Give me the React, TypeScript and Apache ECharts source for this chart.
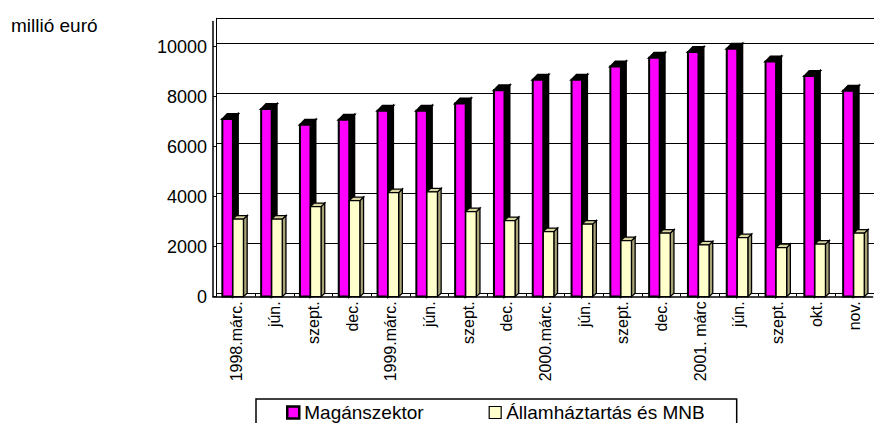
import React, { useEffect, useRef } from "react";
import * as echarts from "echarts";

const categories = [
  "1998.márc.", "jún.", "szept.", "dec.",
  "1999.márc.", "jún.", "szept.", "dec.",
  "2000.márc.", "jún.", "szept.", "dec.",
  "2001. márc", "jún.", "szept.", "okt.", "nov.",
];
const privateSector = [7100, 7500, 6870, 7070, 7430, 7430, 7720, 8250, 8670, 8670, 9200, 9550, 9780, 9910, 9400, 8820, 8230];
const governmentMnb = [3100, 3100, 3600, 3840, 4160, 4190, 3400, 3040, 2600, 2900, 2240, 2540, 2070, 2360, 1960, 2100, 2540];
const seriesNames = ["Magánszektor", "Államháztartás és MNB"];
const yTicks = { min: 0, max: 11000, interval: 2000 };
const unitLabel = "millió euró";

const FONT = "'Liberation Sans', Arial, sans-serif";

function makeRender(
  side: "left" | "right",
  front: string,
  top: string,
  sideC: string,
  lw: number,
  dx: number,
  dy: number
) {
  return (params: any, api: any) => {
    const idx = api.value(0);
    const val = api.value(1);
    const p = api.coord([idx, val]);
    const p0 = api.coord([idx, 0]);
    const bw = api.size([1, 0])[0];
    const w = bw * 0.272;
    const gc = p[0] + 0.5;
    const x0 = side === "left" ? gc - w : gc;
    const x1 = x0 + w;
    const yT = p[1];
    const yB = p0[1];
    return {
      type: "group",
      children: [
        {
          type: "polygon",
          shape: { points: [[x1, yT], [x1 + dx, yT + dy], [x1 + dx, yB + dy], [x1, yB]] },
          style: { fill: sideC, stroke: "#000", lineWidth: lw },
        },
        {
          type: "polygon",
          shape: { points: [[x0, yT], [x0 + dx, yT + dy], [x1 + dx, yT + dy], [x1, yT]] },
          style: { fill: top, stroke: "#000", lineWidth: lw },
        },
        {
          type: "rect",
          shape: { x: x0, y: yT, width: w, height: yB - yT },
          style: { fill: front, stroke: "#000", lineWidth: lw },
        },
      ],
    };
  };
}

export default function App() {
  const ref = useRef<HTMLDivElement>(null);
  useEffect(() => {
    if (!ref.current) return;
    const chart = echarts.init(ref.current, null, { renderer: "svg" });
    const catW = 38.8;
    const plotW = catW * categories.length;
    chart.setOption({
      animation: false,
      backgroundColor: "#fff",
      textStyle: { fontFamily: FONT },
      title: {
        text: unitLabel,
        left: 6,
        top: 11,
        textStyle: { fontSize: 19, fontWeight: "normal", color: "#000", fontFamily: FONT },
      },
      legend: {
        left: 256,
        top: 399,
        orient: "horizontal",
        borderColor: "#000",
        borderWidth: 1.5,
        padding: [4, 32, 6, 30],
        itemGap: 65,
        itemWidth: 12,
        itemHeight: 12,
        selectedMode: false,
        textStyle: { fontSize: 19, color: "#000", fontFamily: FONT },
        data: [
          { name: seriesNames[0], icon: "rect", itemStyle: { color: "#ff00ff", borderColor: "#000", borderWidth: 2.5 } },
          { name: seriesNames[1], icon: "rect", itemStyle: { color: "#ffffcc", borderColor: "#000", borderWidth: 1.2 } },
        ],
      },
      grid: [
        { left: 216.7, top: 18.3, width: plotW, height: 275 },
        { left: 213, top: 21.6, width: plotW, height: 275 },
      ],
      xAxis: [
        {
          type: "category",
          gridIndex: 0,
          data: categories,
          axisLine: { show: true, lineStyle: { color: "#000", width: 1 } },
          axisTick: { show: true, length: 3.3, lineStyle: { color: "#000" } },
          axisLabel: {
            rotate: 90,
            margin: 8,
            fontSize: 16,
            color: "#000",
            fontFamily: FONT,
            interval: 0,
          },
        },
        {
          type: "category",
          gridIndex: 1,
          data: categories,
          axisLine: { show: true, lineStyle: { color: "#000", width: 1.5 } },
          axisTick: { show: false },
          axisLabel: { show: false },
        },
      ],
      yAxis: [
        {
          type: "value",
          gridIndex: 0,
          min: yTicks.min,
          max: yTicks.max,
          interval: yTicks.interval,
          axisLine: { show: true, lineStyle: { color: "#000", width: 1 } },
          axisTick: { show: false },
          axisLabel: { show: false },
          splitLine: { show: true, lineStyle: { color: "#000", width: 1 } },
        },
        {
          type: "value",
          gridIndex: 1,
          min: yTicks.min,
          max: yTicks.max,
          interval: yTicks.interval,
          axisLine: { show: true, lineStyle: { color: "#000", width: 1.5 } },
          axisTick: { show: true, inside: true, length: 4, lineStyle: { color: "#000" } },
          axisLabel: {
            showMaxLabel: false,
            margin: 6,
            fontSize: 18,
            color: "#000",
            fontFamily: FONT,
            formatter: (v: number) => String(v),
          },
          splitLine: { show: false },
        },
      ],
      series: [
        {
          name: seriesNames[0],
          type: "custom",
          xAxisIndex: 1,
          yAxisIndex: 1,
          itemStyle: { color: "#ff00ff" },
          encode: { x: 0, y: 1 },
          data: privateSector.map((v, i) => [i, v]),
          renderItem: makeRender("left", "#ff00ff", "#000000", "#000000", 2, 5, -5),
        },
        {
          name: seriesNames[1],
          type: "custom",
          xAxisIndex: 1,
          yAxisIndex: 1,
          itemStyle: { color: "#ffffcc" },
          encode: { x: 0, y: 1 },
          data: governmentMnb.map((v, i) => [i, v]),
          renderItem: makeRender("right", "#ffffcc", "#d8d4a0", "#a8a478", 1.3, 3.7, -3.5),
        },
      ],
    });
    return () => chart.dispose();
  }, []);
  return (
    <div
      ref={ref}
      style={{ position: "fixed", left: 0, top: 0, width: 874, height: 423, overflow: "hidden" }}
    />
  );
}
